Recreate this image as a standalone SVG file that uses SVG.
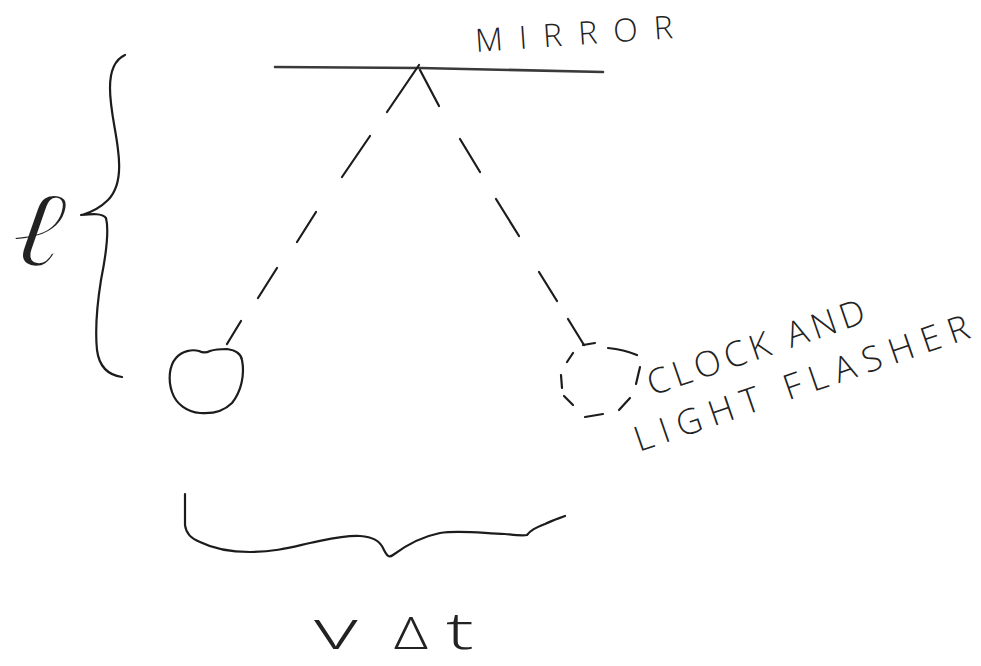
<svg xmlns="http://www.w3.org/2000/svg" width="981" height="666" viewBox="0 0 981 666">
  <style>
    .pen { fill: none; stroke: #1c1c1c; stroke-width: 2.2; stroke-linecap: round; stroke-linejoin: round; }
    .pale { fill: none; stroke: #3a3a3a; stroke-width: 2.6; stroke-linecap: round; }
    .hand { font-family: "Open Sans", "Liberation Sans", sans-serif; font-weight: 300; fill: #222222; }
  </style>
  <rect width="981" height="666" fill="#ffffff"/>

  <!-- mirror at the top -->
  <g id="mirror">
    <path class="pale" d="M275 67 L420 68 L603 72"/>
    <text class="hand" x="476" y="52" font-size="32" textLength="198" lengthAdjust="spacing" transform="rotate(-4 476 52)">MIRROR</text>
  </g>

  <!-- light path: flasher up to the mirror and back down -->
  <g id="connectors" class="pen">
    <path d="M419 65 L387 112 M370 136 L342 177 M316 212 L297 242 M277 268 L258 298 M241 321 L227 344"/>
    <path d="M420 70 L439 106 M460 139 L480 172 M496 199 L519 236 M539 272 L557 301 M568 319 L584 345"/>
  </g>

  <!-- clock at its starting position -->
  <g id="clock-start">
    <path class="pen" d="M227 349 C234 350 241 352 242 360 C245 375 241 392 232 403 C224 411 212 414 200 413 C187 412 176 404 172 392 C168 380 169 366 176 358 C182 351 192 349 199 351 C203 353 206 353 210 351 C216 349 222 349 227 349 Z"/>
  </g>

  <!-- clock and light flasher after moving -->
  <g id="clock-moved">
    <path class="pen" d="M583 345 L595 343 M608 348 C620 349 630 352 637 355 M640 367 L636 384 M630 398 L619 410 M585 417 L603 414 M564 396 L573 405 M561 375 L562 388 M567 362 L573 353"/>
    <text class="hand" x="652" y="396" font-size="35" textLength="228" lengthAdjust="spacing" transform="rotate(-19 652 396)">CLOCK AND</text>
    <text class="hand" x="639" y="452" font-size="35" textLength="352" lengthAdjust="spacing" transform="rotate(-19 639 452)">LIGHT FLASHER</text>
  </g>

  <!-- height brace -->
  <g id="height">
    <!-- thin white outline trims the glyph down to a pen line -->
    <text font-family="'DejaVu Serif', serif" font-style="italic" font-size="110" fill="#222222" stroke="#ffffff" stroke-width="2.4" transform="translate(8 262) rotate(8) scale(1.12 1)">ℓ</text>
    <path class="pen" d="M125 55 C114 60 110 72 110 88 C110 110 116 130 118 150 C121 172 118 190 108 200 C100 208 92 212 82 215 M81 215 C92 214 102 213 106 218 C109 230 106 255 101 280 C97 305 95 330 97 350 C99 366 108 375 122 377"/>
  </g>

  <!-- distance brace -->
  <g id="distance">
    <path class="pen" d="M185 494 L185 525 C186 534 192 539 200 542 C212 548 228 552 250 552 C275 552 292 547 310 543 C330 539 345 535 360 536 C372 537 380 540 384 550 C387 556 389 558 393 555 C405 546 420 537 440 533 C458 530 480 533 505 534 C515 535 522 536 527 535 C531 530 535 528 545 524 C553 520 560 518 565 516"/>
    <text class="hand" font-size="56" transform="translate(314 649) scale(1.7 1)">v</text>
    <text class="hand" font-size="44" transform="translate(394 649) scale(1.35 1)">Δ</text>
    <text class="hand" font-size="52" transform="translate(446 649) scale(1.6 1)">t</text>
  </g>
</svg>
